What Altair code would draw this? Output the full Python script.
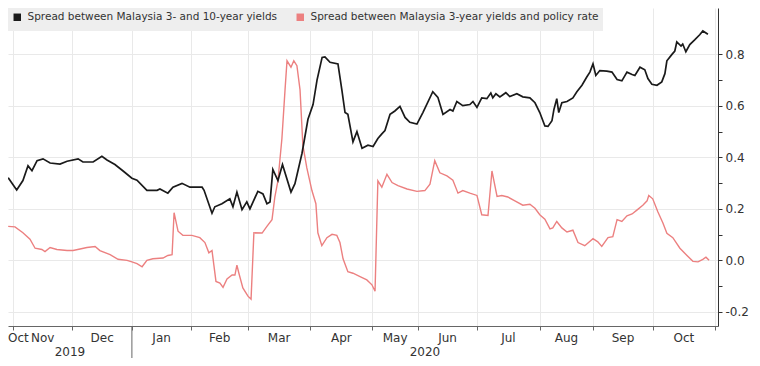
import altair as alt
import pandas as pd

# ---------------- data ----------------
series_names = ["Spread between Malaysia 3- and 10-year yields",
                "Spread between Malaysia 3-year yields and policy rate"]
series_colors = ["#1a1a1a", "#ec8080"]

# x = trading-day number, day 0 = first trading day of Nov 2019
month_names = ["Nov", "Dec", "Jan", "Feb", "Mar", "Apr", "May", "Jun", "Jul", "Aug", "Sep", "Oct"]
month_trading_days = [21, 21, 21, 20, 22, 22, 16, 21, 22, 19, 21, 22]
first_partial_month = "Oct"
year_labels = ["2019", "2020"]
year_start_month_index = 2  # Jan 2020 is the 3rd full month

black_t = [-1.7, 1.3, 3.5, 5.3, 6.7, 8.5, 10.6, 13.1, 16.6, 19.1,
           23.0, 24.7, 28.3, 31.4, 33.2, 36.0, 38.9, 42.0, 43.8, 47.3,
           50.9, 51.9, 54.7, 56.5, 59.7, 62.5, 66.8, 67.5, 70.3, 71.3,
           73.8, 76.6, 77.7, 79.1, 80.9, 82.6, 83.7, 86.5, 88.3, 89.7,
           90.8, 91.8, 93.6, 95.2, 98.2, 99.6, 102.1, 104.2, 106.0, 107.4,
           109.2, 110.2, 112.0, 114.8, 116.2, 117.3, 118.3, 120.1, 121.5, 123.3,
           125.4, 127.2, 128.9, 130.3, 131.4, 133.2, 134.9, 136.7, 138.5, 140.2,
           142.7, 144.8, 148.3, 150.1, 151.9, 154.4, 155.4, 156.8, 158.9, 161.4,
           162.5, 163.9, 165.6, 167.4, 168.8, 169.5, 170.6, 172.0, 174.1, 175.5,
           178.0, 180.1, 182.6, 184.4, 186.1, 187.9, 189.0, 190.4, 191.1, 192.1,
           192.8, 193.9, 195.7, 197.8, 199.2, 201.0, 202.7, 203.8, 204.9, 205.9,
           207.3, 209.8, 211.6, 213.4, 215.1, 216.9, 218.7, 219.7, 221.5, 223.2,
           224.3, 225.7, 227.5, 229.2, 230.3, 231.0, 232.8, 233.8, 234.5, 236.0,
           236.6, 237.7, 239.1, 240.9, 242.6, 243.7, 245.5]
black_v = [0.321, 0.273, 0.31, 0.367, 0.348, 0.387, 0.394, 0.378, 0.374, 0.385,
           0.394, 0.382, 0.382, 0.404, 0.39, 0.372, 0.347, 0.319, 0.311, 0.272,
           0.272, 0.277, 0.261, 0.284, 0.299, 0.284, 0.284, 0.272, 0.183, 0.208,
           0.22, 0.239, 0.208, 0.265, 0.197, 0.227, 0.20, 0.268, 0.258, 0.22,
           0.227, 0.353, 0.31, 0.372, 0.265, 0.298, 0.416, 0.548, 0.605, 0.70,
           0.788, 0.79, 0.769, 0.763, 0.66, 0.574, 0.567, 0.46, 0.50, 0.435,
           0.447, 0.442, 0.473, 0.491, 0.504, 0.567, 0.58, 0.598, 0.555, 0.536,
           0.529, 0.574, 0.655, 0.633, 0.567, 0.586, 0.58, 0.617, 0.601, 0.605,
           0.617, 0.594, 0.631, 0.628, 0.65, 0.631, 0.647, 0.635, 0.651, 0.636,
           0.647, 0.635, 0.631, 0.612, 0.574, 0.522, 0.52, 0.542, 0.586, 0.628,
           0.574, 0.612, 0.617, 0.631, 0.655, 0.68, 0.712, 0.731, 0.763, 0.718,
           0.737, 0.735, 0.731, 0.702, 0.697, 0.731, 0.722, 0.718, 0.75, 0.74,
           0.706, 0.684, 0.68, 0.693, 0.725, 0.775, 0.80, 0.813, 0.848, 0.832,
           0.84, 0.81, 0.838, 0.857, 0.876, 0.891, 0.878]

red_t = [-1.7, 0.7, 3.5, 6.0, 7.8, 10.2, 11.3, 13.1, 15.5, 19.1,
         21.2, 23.7, 26.1, 29.0, 30.7, 34.3, 37.1, 40.3, 42.0, 43.8,
         45.6, 47.3, 49.4, 53.0, 54.7, 56.2, 56.9, 58.3, 60.0, 63.2,
         66.0, 67.8, 69.2, 70.3, 71.7, 73.1, 74.2, 75.6, 77.4, 78.4,
         79.1, 79.8, 81.2, 83.0, 84.1, 85.1, 88.0, 89.7, 91.5, 92.5,
         93.6, 95.0, 96.1, 96.8, 98.2, 99.2, 100.3, 101.4, 102.4, 103.8,
         105.6, 107.0, 107.7, 109.1, 110.9, 112.7, 114.4, 115.5, 116.6, 118.3,
         120.1, 122.6, 125.0, 126.8, 127.9, 128.9, 130.3, 132.1, 133.9, 136.0,
         139.2, 142.7, 145.5, 147.3, 149.0, 150.8, 153.3, 155.4, 157.2, 158.9,
         161.4, 163.9, 165.6, 167.8, 169.2, 171.0, 172.7, 174.8, 177.3, 180.1,
         182.6, 184.4, 186.1, 187.9, 189.7, 190.7, 192.1, 193.9, 195.7, 197.8,
         199.6, 202.0, 204.9, 206.6, 208.0, 210.2, 211.9, 213.4, 215.1, 216.9,
         218.7, 220.4, 222.5, 224.0, 224.6, 226.0, 227.8, 229.6, 231.0, 233.1,
         235.6, 238.1, 240.2, 242.0, 243.7, 244.8, 245.9]
red_v = [0.132, 0.13, 0.107, 0.082, 0.047, 0.042, 0.034, 0.05, 0.042, 0.038,
         0.038, 0.044, 0.05, 0.054, 0.038, 0.022, 0.004, 0.0, -0.006, -0.013,
         -0.025, 0.0, 0.006, 0.009, 0.019, 0.022, 0.185, 0.113, 0.097, 0.097,
         0.088, 0.069, 0.029, 0.038, -0.082, -0.088, -0.105, -0.072, -0.057, -0.057,
         -0.019, -0.05, -0.107, -0.139, -0.151, 0.107, 0.106, 0.132, 0.158, 0.246,
         0.31, 0.473, 0.662, 0.775, 0.75, 0.775, 0.756, 0.662, 0.447, 0.359,
         0.271, 0.22, 0.107, 0.057, 0.088, 0.101, 0.097, 0.069, 0.006, -0.044,
         -0.05, -0.063, -0.076, -0.095, -0.12, 0.309, 0.284, 0.334, 0.302, 0.29,
         0.277, 0.268, 0.271, 0.296, 0.387, 0.34, 0.328, 0.311, 0.261, 0.271,
         0.261, 0.252, 0.177, 0.174, 0.347, 0.248, 0.252, 0.246, 0.231, 0.214,
         0.218, 0.202, 0.177, 0.16, 0.122, 0.126, 0.151, 0.126, 0.11, 0.117,
         0.069, 0.057, 0.084, 0.072, 0.054, 0.088, 0.092, 0.158, 0.151, 0.173,
         0.18, 0.195, 0.214, 0.231, 0.252, 0.239, 0.189, 0.145, 0.105, 0.088,
         0.047, 0.019, -0.004, -0.006, 0.004, 0.012, 0.0]

y_ticks = [-0.2, -0.1, 0.0, 0.1, 0.2, 0.3, 0.4, 0.5, 0.6, 0.7, 0.8]

# ---------------- derived tables ----------------
X_DOMAIN = [-1.77, 249.06]
Y_DOMAIN = [-0.255, 0.98]
W, H = 710, 318
FONT = "DejaVu Sans"
TXT = "#333333"

bounds = [0]
for n in month_trading_days:
    bounds.append(bounds[-1] + n)
mids = [(bounds[i] + bounds[i + 1]) / 2 for i in range(len(month_names))]

lines_df = pd.concat([
    pd.DataFrame({"t": red_t, "v": red_v, "series": series_names[1]}),
    pd.DataFrame({"t": black_t, "v": black_v, "series": series_names[0]}),
])
months_df = pd.DataFrame({"t": mids, "label": month_names})
first_df = pd.DataFrame({"t": [X_DOMAIN[0]], "label": [first_partial_month]})
ysplit = bounds[year_start_month_index]
years_df = pd.DataFrame({"t": [(X_DOMAIN[0] + ysplit) / 2, (ysplit + X_DOMAIN[1]) / 2],
                         "label": year_labels})
split_df = pd.DataFrame({"t": [ysplit]})

xscale = alt.Scale(domain=X_DOMAIN, nice=False, zero=False)
yscale = alt.Scale(domain=Y_DOMAIN, nice=False, zero=False)

x_axis = alt.Axis(values=bounds, labels=False, title=None, grid=True,
                  gridColor="#e9e9e9", tickSize=4, tickColor="#666666",
                  domainColor="#666666")
y_axis = alt.Axis(orient="right", values=y_ticks, title=None, grid=True,
                  gridColor="#e9e9e9",
                  gridOpacity={"condition": {"test": "abs(round(datum.value*10)) % 2 == 1",
                                             "value": 0}, "value": 1},
                  labelExpr="abs(round(datum.value*10)) % 2 == 0 ? replace(format(datum.value, '.1f'), '\u2212', '-') : ''",
                  tickSize=4, tickColor="#333333", domainColor="#333333",
                  labelPadding=3, labelFont=FONT, labelFontSize=12, labelColor=TXT)

color = alt.Color("series:N",
                  scale=alt.Scale(domain=series_names, range=series_colors),
                  legend=alt.Legend(title=None, orient="none", legendX=0, legendY=0,
                                    direction="horizontal", fillColor="#eeeeee",
                                    padding=4, symbolType="square", symbolSize=12,
                                    symbolStrokeWidth=4, labelFont=FONT,
                                    labelFontSize=10.5, labelColor=TXT,
                                    labelOffset=5, columnPadding=12, labelLimit=600))

base = alt.Chart(lines_df)
red_line = base.transform_filter(alt.datum.series == series_names[1]).mark_line(
    strokeWidth=1.4).encode(
    x=alt.X("t:Q", scale=xscale, axis=x_axis),
    y=alt.Y("v:Q", scale=yscale, axis=y_axis),
    color=color)
black_line = base.transform_filter(alt.datum.series == series_names[0]).mark_line(
    strokeWidth=1.7).encode(
    x=alt.X("t:Q", scale=xscale, axis=x_axis),
    y=alt.Y("v:Q", scale=yscale, axis=y_axis),
    color=color)

month_text = alt.Chart(months_df).mark_text(
    font=FONT, fontSize=12, color=TXT, baseline="middle", align="center").encode(
    x=alt.X("t:Q", scale=xscale, axis=x_axis), y=alt.value(H + 12), text="label:N")
first_text = alt.Chart(first_df).mark_text(
    font=FONT, fontSize=12, color=TXT, baseline="middle", align="left").encode(
    x=alt.X("t:Q", scale=xscale, axis=x_axis), y=alt.value(H + 12), text="label:N")
year_text = alt.Chart(years_df).mark_text(
    font=FONT, fontSize=12, color=TXT, baseline="middle", align="center").encode(
    x=alt.X("t:Q", scale=xscale, axis=x_axis), y=alt.value(H + 26), text="label:N")
split_rule = alt.Chart(split_df).mark_rule(color="#666666", strokeWidth=1).encode(
    x=alt.X("t:Q", scale=xscale, axis=x_axis), y=alt.value(H), y2=alt.value(H + 32))

chart = alt.layer(red_line, black_line, month_text, first_text, year_text, split_rule).properties(
    width=W, height=H,
    autosize=alt.AutoSizeParams(type="none"),
    padding={"left": 0, "top": 0, "right": 34, "bottom": 32},
    background="white",
).configure_view(stroke=None)

chart.save("out.html", embed_options={"renderer": "svg", "actions": False})
